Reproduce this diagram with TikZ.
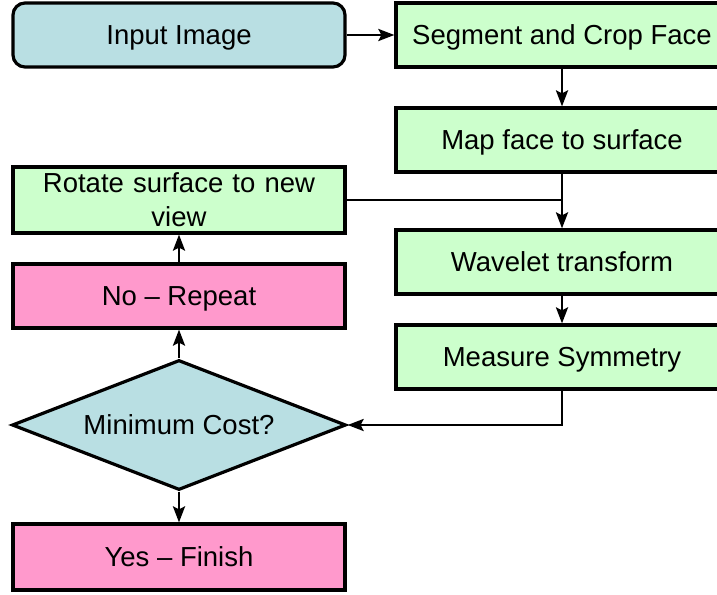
\documentclass[tikz,border=0pt]{standalone}
\usepackage{fontspec}
\setmainfont{Liberation Sans}
\usepackage{tikz}
\usetikzlibrary{arrows.meta,positioning,calc,shapes.geometric}
\definecolor{boxblue}{HTML}{B9DFE3}
\definecolor{boxgreen}{HTML}{CCFFCC}
\definecolor{boxpink}{HTML}{FF99CC}
\tikzset{box/.style={draw=black,line width=3.2pt,minimum width=332pt,minimum height=64pt,inner sep=0pt,align=center,font=\fontsize{27.5}{34}\selectfont}}
\tikzset{oneline/.style={box,text height=19.5pt,text depth=0pt}}
\tikzset{proc/.style={oneline,fill=boxgreen}}
\tikzset{stop/.style={oneline,fill=boxpink}}

\begin{document}
\begin{tikzpicture}[x=1pt, y=-1pt, >={Stealth[length=16pt,width=12pt,inset=3pt]}, line width=2.7pt]
        \useasboundingbox (0,0) rectangle (717,594);
        \tikzstyle{every path}=[draw=black]
        \node[oneline,fill=boxblue,rounded corners=12pt] (input) at (179,35) {Input Image};
        \node[proc] (seg) at (562,35) {Segment and Crop Face};
        \node[proc] (map) at (562,140) {Map face to surface};
        \node[box,fill=boxgreen,text width=320pt,minimum height=66pt] (rot) at (179,200) {Rotate surface to new\\view};
        \node[proc] (wave) at (562,262) {Wavelet transform};
        \node[stop] (no) at (179,296) {No -- Repeat};
        \node[proc] (meas) at (562,357) {Measure Symmetry};
        \node[diamond,oneline,fill=boxblue,aspect=2.57,minimum width=334pt,minimum height=130pt] (cost) at (179,425) {Minimum Cost?};
        \node[stop,minimum height=66pt] (yes) at (179,557) {Yes -- Finish};
        \draw[->] (input) -- (seg);
        \draw[->] (seg) -- (map);
        \draw[->] (map) -- (wave);
        \draw (rot.east) -- (rot.east -| map.south);
        \draw[->] (wave) -- (meas);
        \draw[->] (meas.south) |- (cost.east);
        \draw[->] (cost.north) -- (no.south);
        \draw[->] (no.north) -- (rot.south);
        \draw[->] (cost.south) -- (yes.north);
\end{tikzpicture}
\end{document}
